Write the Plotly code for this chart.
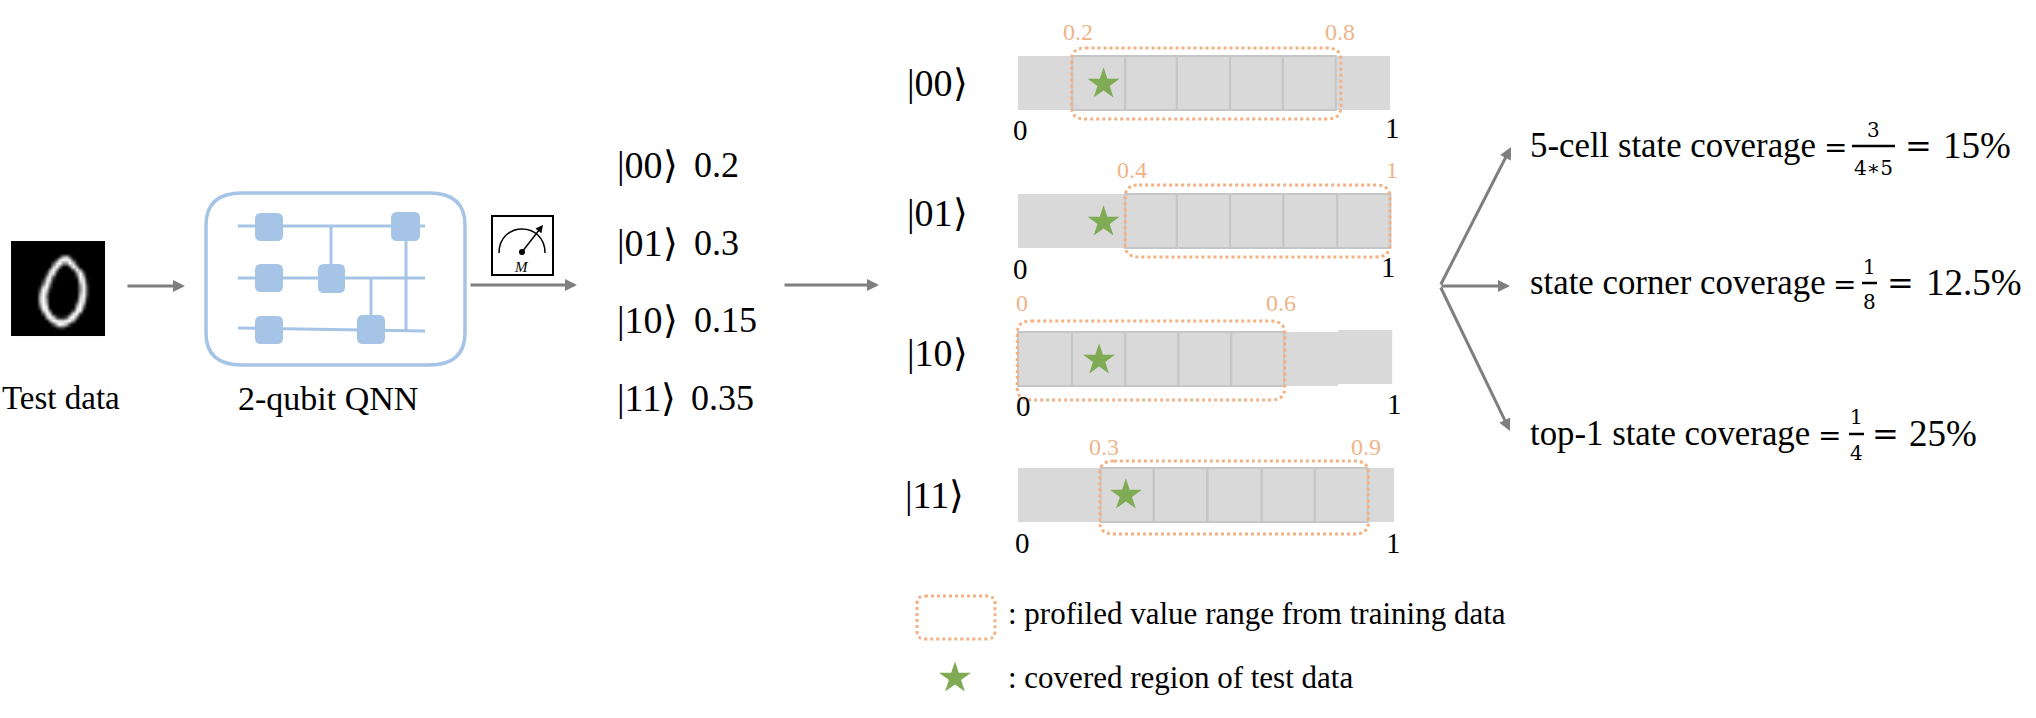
import plotly.graph_objects as go

# readout values
states = ["|00⟩", "|01⟩", "|10⟩", "|11⟩"]
probs = ["0.2", "0.3", "0.15", "0.35"]

# profiled ranges, in bar units (0 to 1) as they are drawn
range_low_text = ["0.2", "0.4", "0", "0.3"]
range_high_text = ["0.8", "1", "0.6", "0.9"]
cell_edges = [
    [0.146, 0.288, 0.427, 0.570, 0.712, 0.854],
    [0.288, 0.427, 0.570, 0.713, 0.858, 1.001],
    [0.0, 0.145, 0.288, 0.431, 0.573, 0.715],
    [0.222, 0.365, 0.509, 0.655, 0.798, 0.940],
]
box_low = [0.144, 0.288, -0.002, 0.220]
box_high = [0.868, 0.9995, 0.717, 0.942]
star_pos = [0.230, 0.230, 0.218, 0.290]
bar_end = [1.0, 1.0, 0.86, 1.011]

coverage_names = ["5-cell state coverage", "state corner coverage", "top-1 state coverage"]
coverage_num = ["3", "1", "1"]
coverage_den = ["4∗5", "8", "4"]
coverage_pct = ["15%", "12.5%", "25%"]

# the test digit, 28x28, grey level 0-9
digit_rows = [
    "0000000000000000000000000000",
    "0000000000000000000000000000",
    "0000000000000000000000000000",
    "0000000000000000000000000000",
    "0000000000000026730000000000",
    "0000000000000389982000000000",
    "0000000000003895597100000000",
    "0000000000007940039600000000",
    "0000000000059500003950000000",
    "0000000000288100000593000000",
    "0000000000693000000296000000",
    "0000000002881000000088100000",
    "0000000004950000000069200000",
    "0000000017930000000059300000",
    "0000000039710000000059300000",
    "0000000059500000000069300000",
    "0000000069400000000079200000",
    "0000000069500000000188100000",
    "0000000059600000000496000000",
    "0000000039800000000793000000",
    "0000000007940000003980000000",
    "0000000003981000028920000000",
    "0000000000697211389400000000",
    "0000000000059988995000000000",
    "0000000000003798620000000000",
    "0000000000000122000000000000",
    "0000000000000000000000000000",
    "0000000000000000000000000000",
]

# layout of the drawing, in picture pixels
BAR_X0, BAR_X1 = 1018, 1390
PAD = 30
bar_top = [56, 194, 332, 468]
bar_bottom = [110, 248, 386, 522]
box_top = [48, 185, 321, 461]
box_bottom = [119, 257, 400, 534]
star_y = [84, 222, 360, 495]
ket_y = [83, 213, 353, 495]
ket_x = [905, 905, 905, 903]
list_y = [165, 243, 320, 398]
list_val_x = [692, 692, 692, 689]
label_y = [32, 170, 303, 447]
low_x = [1078, 1132, 1022, 1104]
high_x = [1340, 1392, 1281, 1366]
zero_x = [1020, 1020, 1023, 1022]
zero_y = [130, 269, 406, 543]
one_x = [1392, 1388, 1394, 1393]
one_y = [128, 267, 404, 543]

BLUE = "#A5C4E6"
GREY = "#7F7F7F"
BAR_GREY = "#D9D9D9"
CELL_GREY = "#C6C6C6"
ORANGE = "#F4B183"
ORANGE_TEXT = "#EDB48A"
GREEN = "#7FAB55"
SERIF = "Liberation Serif"
MATH = "DejaVu Serif"


def rounded(x0, y0, x1, y1, rx, ry):
    return (f"M{x0 + rx},{y0} L{x1 - rx},{y0} Q{x1},{y0} {x1},{y0 + ry} "
            f"L{x1},{y1 - ry} Q{x1},{y1} {x1 - rx},{y1} L{x0 + rx},{y1} "
            f"Q{x0},{y1} {x0},{y1 - ry} L{x0},{y0 + ry} Q{x0},{y0} {x0 + rx},{y0} Z")


def text(x, y, s, size=36, color="black", anchor="left", family=SERIF):
    fig.add_annotation(x=x, y=y, xref="x", yref="y", text=s, showarrow=False, xanchor=anchor,
                       yanchor="middle", font=dict(family=family, size=size, color=color))


def arrow(x0, y0, x1, y1, color=GREY, width=3, size=0.8):
    fig.add_annotation(x=x1, y=y1, ax=x0, ay=y0, xref="x", yref="y", axref="x", ayref="y", text="",
                       showarrow=True, arrowhead=2, arrowsize=size, arrowwidth=width, arrowcolor=color)


def line(x0, y0, x1, y1, color=BLUE, width=3):
    fig.add_shape(type="line", x0=x0, y0=y0, x1=x1, y1=y1, xref="x", yref="y", line=dict(color=color, width=width))


fig = go.Figure()

# test digit
fig.add_trace(go.Heatmap(z=[[int(c) for c in row] for row in digit_rows], x0=12.7, dx=3.357, y0=242.7, dy=3.38,
                         zmin=0, zmax=9, zsmooth="best", showscale=False, hoverinfo="skip",
                         colorscale=[[0, "black"], [1, "white"]]))
text(0, 398, "Test data", size=33)
arrow(126, 286, 185, 286)

# circuit
fig.add_shape(type="path", path=rounded(206, 193, 465, 365, 36, 32), xref="x", yref="y", line=dict(color=BLUE, width=3.5))
line(238, 226, 425, 226)
line(238, 278, 425, 278)
line(238, 328, 425, 331)
line(331, 226, 331, 264)
line(371, 278, 371, 315)
line(406, 240, 406, 330)
for x0, x1, y0, y1 in [(255, 283, 213, 241), (391, 420, 212, 241), (255, 283, 264, 292), (318, 345, 264, 293),
                       (255, 283, 316, 344), (357, 385, 315, 344)]:
    fig.add_shape(type="path", path=rounded(x0, y0, x1, y1, 6, 6), xref="x", yref="y", fillcolor=BLUE, line=dict(width=0))
text(328, 398, "2-qubit QNN", size=34, anchor="center")

# meter
fig.add_shape(type="rect", x0=492, y0=216, x1=553, y1=275, xref="x", yref="y", line=dict(color="black", width=2))
fig.add_shape(type="path", path="M499,253 C499,221 545,221 545,253", xref="x", yref="y", line=dict(color="black", width=1.5))
arrow(522, 252, 543, 225, color="black", width=1.5, size=1)
fig.add_trace(go.Scatter(x=[522], y=[252], mode="markers", marker=dict(color="black", size=6), hoverinfo="skip"))
text(521, 267, "<i>M</i>", size=15, anchor="center")
arrow(469, 285, 577, 285)

# readout
for i in range(4):
    text(615, list_y[i], states[i], size=38)
    text(list_val_x[i], list_y[i], probs[i])
arrow(783, 285, 879, 285)

# one axis per state, 0 to 1 along the bar
pad = PAD / (BAR_X1 - BAR_X0)
for i in range(4):
    ax = f"x{i + 2}"
    fig.update_layout({f"xaxis{i + 2}": dict(domain=[(BAR_X0 - PAD) / 2036, (BAR_X1 + PAD) / 2036], range=[-pad, 1 + pad],
                                             visible=False, anchor="y")})
    fig.add_shape(type="rect", x0=0, x1=bar_end[i], y0=bar_top[i], y1=bar_bottom[i], xref=ax, yref="y",
                  fillcolor=BAR_GREY, line=dict(width=0), layer="below")
    edges = cell_edges[i]
    for j in range(5):
        fig.add_shape(type="rect", x0=edges[j], x1=edges[j + 1], y0=bar_top[i], y1=bar_bottom[i], xref=ax, yref="y",
                      line=dict(color=CELL_GREY, width=2), layer="below")
    fig.add_trace(go.Scatter(x=[star_pos[i]], y=[star_y[i]], xaxis=ax, yaxis="y", mode="markers", hoverinfo="skip",
                             marker=dict(symbol="star", size=24, color=GREEN, line=dict(width=0))))
    rx = 14 / (BAR_X1 - BAR_X0)
    fig.add_shape(type="path", path=rounded(box_low[i], box_top[i], box_high[i], box_bottom[i], rx, 12),
                  xref=ax, yref="y", line=dict(color=ORANGE, width=3, dash="dot"))
    text(ket_x[i], ket_y[i], states[i], size=38)
    text(low_x[i], label_y[i], range_low_text[i], size=24, color=ORANGE_TEXT, anchor="center")
    text(high_x[i], label_y[i], range_high_text[i], size=24, color=ORANGE_TEXT, anchor="center")
    text(zero_x[i], zero_y[i], "0", size=29, anchor="center")
    text(one_x[i], one_y[i], "1", size=29, anchor="center")

# the tail of the third bar sits a little higher than the rest
fig.add_shape(type="rect", x0=bar_end[2], x1=1.006, y0=330, y1=384, xref="x4", yref="y",
              fillcolor=BAR_GREY, line=dict(width=0), layer="below")

# legend
fig.add_shape(type="path", path=rounded(917, 596, 995, 639, 8, 8), xref="x", yref="y", line=dict(color=ORANGE, width=3, dash="dot"))
text(1006, 613, ": profiled value range from training data", size=31)
fig.add_trace(go.Scatter(x=[955], y=[678], mode="markers", hoverinfo="skip",
                         marker=dict(symbol="star", size=24, color=GREEN, line=dict(width=0))))
text(1006, 677, ": covered region of test data", size=31)

# coverage results
for x1, y1 in [(1511, 147), (1510, 286), (1510, 431)]:
    arrow(1440, 286, x1, y1)
cov_y = [145, 282, 433]
eq_x = [1835, 1844, 1829]
frac_x0 = [1852, 1862, 1849]
frac_x1 = [1895, 1877, 1864]
num_y = [130, 267, 417]
den_y = [168, 302, 453]
eq2_x = [1918, 1900, 1885]
pct_x = [1941, 1924, 1907]
for i in range(3):
    text(1528, cov_y[i], coverage_names[i], size=34.8)
    text(eq_x[i], cov_y[i] + 2, "=", size=28, anchor="center", family=MATH)
    line(frac_x0[i], cov_y[i] + 1, frac_x1[i], cov_y[i] + 1, color="black", width=2.5)
    mid = (frac_x0[i] + frac_x1[i]) / 2
    text(mid, num_y[i], coverage_num[i], size=20, anchor="center", family=MATH)
    text(mid, den_y[i], coverage_den[i], size=20, anchor="center", family=MATH)
    text(eq2_x[i], cov_y[i] + 1, "=", size=32, anchor="center", family=MATH)
    text(pct_x[i], cov_y[i], coverage_pct[i], size=37)

fig.update_layout(width=2036, height=718, margin=dict(l=0, r=0, t=0, b=0), showlegend=False,
                  paper_bgcolor="white", plot_bgcolor="rgba(0,0,0,0)",
                  xaxis=dict(range=[0, 2036], visible=False), yaxis=dict(range=[718, 0], visible=False))
fig.write_html("out.html", config={"displayModeBar": False}, post_script="document.body.style.margin='0'")
